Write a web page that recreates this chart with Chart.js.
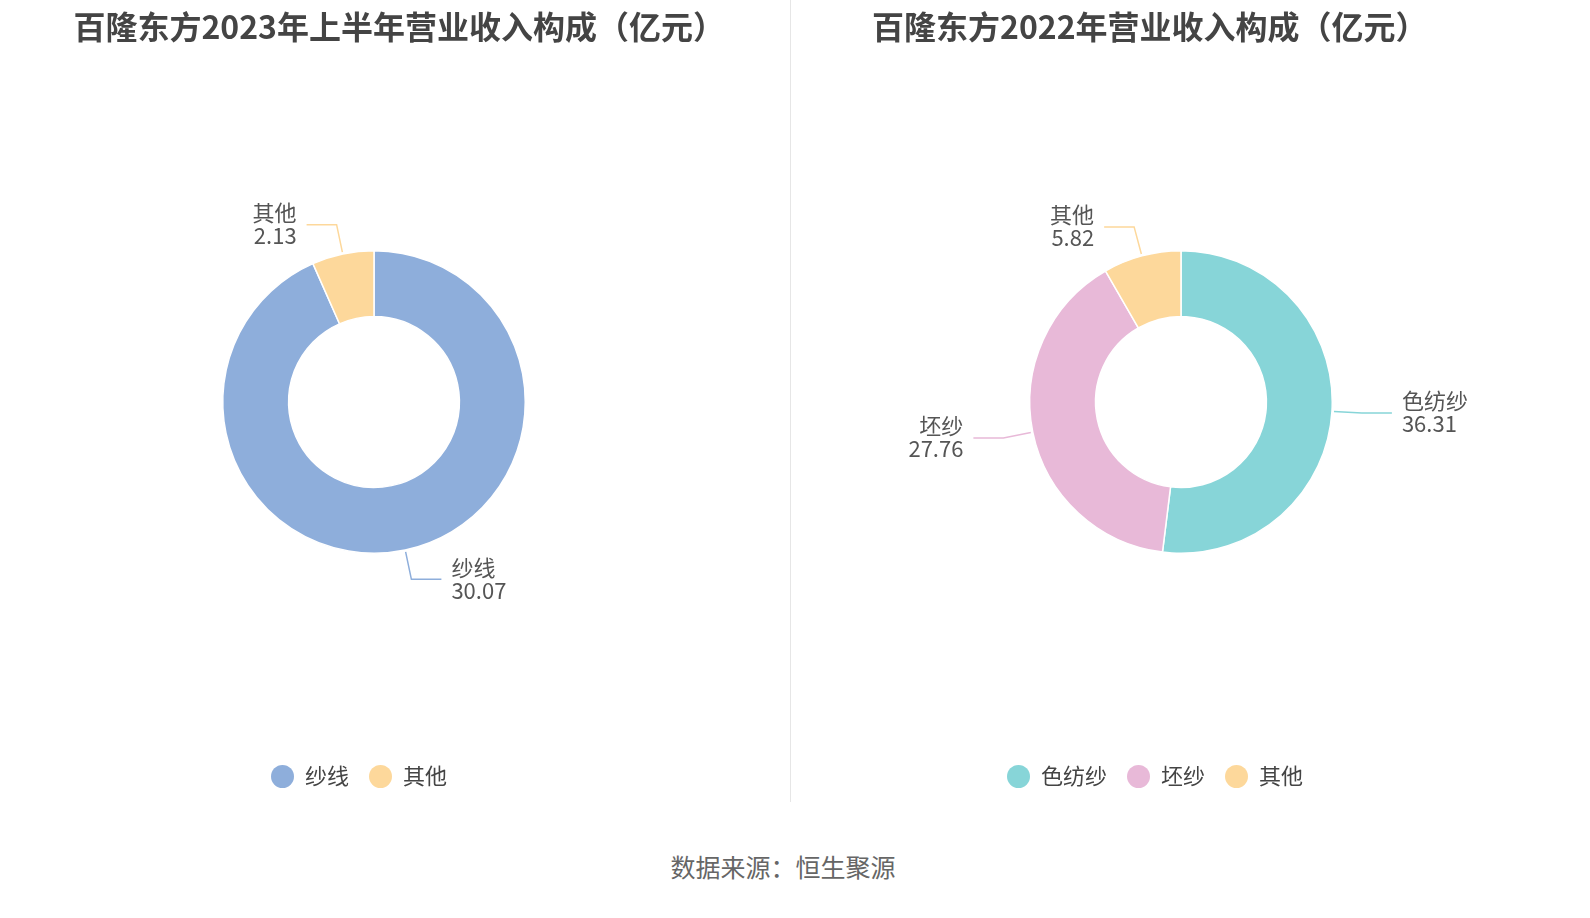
<!DOCTYPE html>
<html>
<head>
<meta charset="utf-8">
<script src="https://cdn.jsdelivr.net/npm/chart.js@4"></script>
<style>
  body { margin: 0; width: 1590px; height: 918px; background: #fff; position: relative; overflow: hidden;
         font-family: "Noto Sans CJK SC", "Noto Sans", sans-serif; }
  .box { position: absolute; top: 0; width: 790px; height: 800px; }
  .title { position: absolute; top: 0; height: 50px; line-height: 50px; font-size: 32px; font-weight: bold;
           color: #444; white-space: nowrap; overflow: hidden; }
  .legend { position: absolute; top: 758px; font-size: 22px; color: #444; white-space: nowrap; }
  .legend span.dot { display: inline-block; width: 23px; height: 23px; border-radius: 50%; vertical-align: -4px; margin-right: 11px; }
  .legend span.item { margin-right: 20px; }
  #divider { position: absolute; left: 790px; top: 0; width: 1px; height: 802px; background: #e6e6e6; }
  #source { position: absolute; top: 848px; width: 1566px; text-align: center; font-size: 25px; color: #666; }
</style>
</head>
<body>
<div class="box" style="left:0"><canvas id="left"></canvas></div>
<div class="box" style="left:791px"><canvas id="right"></canvas></div>
<div id="divider"></div>
<div class="title" style="left:35px;width:690px;direction:rtl;text-align:right"><bdi>百隆东方2023年上半年营业收入构成（亿元）</bdi></div>
<div class="title" style="left:872px">百隆东方2022年营业收入构成（亿元）</div>
<div class="legend" style="left:271px" id="legLeft"></div>
<div class="legend" style="left:1007px" id="legRight"></div>
<div id="source">数据来源：恒生聚源</div>
<script>
// --- datos ---
const labels2023 = ['纱线', '其他'];
const values2023 = [30.07, 2.13];
const colors2023 = ['#8eaedb', '#fdd89b'];

const labels2022 = ['色纺纱', '坯纱', '其他'];
const values2022 = [36.31, 27.76, 5.82];
const colors2022 = ['#87d5d8', '#e8b9d8', '#fdd89b'];

// --- etiquetas con línea guía ---
const leaderLabels = {
  id: 'leaderLabels',
  afterDatasetsDraw(chart) {
    const c = chart.ctx;
    const meta = chart.getDatasetMeta(0);
    meta.data.forEach((arc, i) => {
      const mid = (arc.startAngle + arc.endAngle) / 2;
      const r = arc.outerRadius;
      const x0 = arc.x + Math.cos(mid) * (r + 2), y0 = arc.y + Math.sin(mid) * (r + 2);
      const x1 = arc.x + Math.cos(mid) * (r + 30), y1 = arc.y + Math.sin(mid) * (r + 30);
      const right = Math.cos(mid) >= 0;
      const x2 = x1 + (right ? 30 : -30);
      c.save();
      c.strokeStyle = chart.data.datasets[0].backgroundColor[i];
      c.lineWidth = 1.5;
      c.beginPath(); c.moveTo(x0, y0); c.lineTo(x1, y1); c.lineTo(x2, y1); c.stroke();
      c.fillStyle = '#555';
      c.font = '22px "Noto Sans CJK SC", sans-serif';
      c.textAlign = right ? 'left' : 'right';
      c.textBaseline = 'middle';
      const tx = x2 + (right ? 10 : -10);
      c.fillText(chart.data.labels[i], tx, y1 - 12);
      c.fillText(chart.data.datasets[0].data[i].toFixed(2), tx, y1 + 11);
      c.restore();
    });
  }
};

function makeDonut(id, labels, values, colors, padding) {
  new Chart(document.getElementById(id), {
    type: 'doughnut',
    data: { labels: labels, datasets: [{ data: values, backgroundColor: colors, borderColor: '#fff', borderWidth: 1.5 }] },
    options: {
      responsive: true, maintainAspectRatio: false, animation: false,
      cutout: '56.5%',
      layout: { padding: padding },
      plugins: { legend: { display: false }, tooltip: { enabled: false } }
    },
    plugins: [leaderLabels]
  });
}

makeDonut('left', labels2023, values2023, colors2023, { left: 222, right: 264, top: 250, bottom: 246 });
makeDonut('right', labels2022, values2022, colors2022, { left: 238, right: 248, top: 250, bottom: 246 });

function legend(id, labels, colors) {
  document.getElementById(id).innerHTML = labels.map((l, i) =>
    `<span class="item"><span class="dot" style="background:${colors[i]}"></span>${l}</span>`).join('');
}
legend('legLeft', labels2023, colors2023);
legend('legRight', labels2022, colors2022);
</script>
</body>
</html>
